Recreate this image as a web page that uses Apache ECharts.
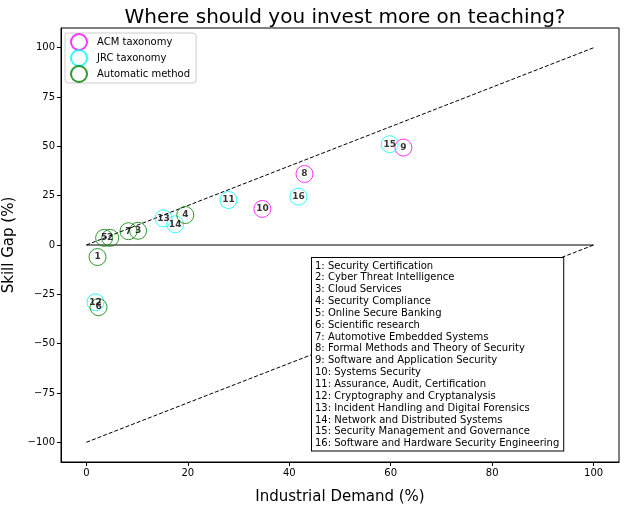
<!DOCTYPE html>
<html>
<head>
<meta charset="utf-8">
<script src="https://cdn.jsdelivr.net/npm/echarts@6/dist/echarts.min.js"></script>
<style>
  html, body { margin: 0; padding: 0; background: #fff; }
  #main { width: 625px; height: 506px; }
</style>
</head>
<body>
<div id="main"></div>
<script>
// ACM taxonomy
const acmIds = ['8', '9', '10'];
const acmX = [43, 62.5, 34.7];
const acmY = [36, 49.4, 18.3];

// JRC taxonomy
const jrcIds = ['11', '12', '13', '14', '15', '16'];
const jrcX = [28, 1.8, 15.2, 17.5, 59.8, 41.8];
const jrcY = [22.8, -29, 13.5, 10.5, 51.1, 24.5];

// Automatic method
const autoIds = ['1', '2', '3', '4', '5', '6', '7'];
const autoX = [2.2, 4.7, 10.2, 19.5, 3.5, 2.4, 8.3];
const autoY = [-6.1, 3.6, 7.2, 15.2, 3.6, -31.5, 7.0];

const topicNames = [
  'Security Certification',
  'Cyber Threat Intelligence',
  'Cloud Services',
  'Security Compliance',
  'Online Secure Banking',
  'Scientific research',
  'Automotive Embedded Systems',
  'Formal Methods and Theory of Security',
  'Software and Application Security',
  'Systems Security',
  'Assurance, Audit, Certification',
  'Cryptography and Cryptanalysis',
  'Incident Handling and Digital Forensics',
  'Network and Distributed Systems',
  'Security Management and Governance',
  'Software and Hardware Security Engineering'
];

const xTicks = [0, 20, 40, 60, 80, 100];
const yTicks = [-100, -75, -50, -25, 0, 25, 50, 75, 100];

const upperLine = [[0, 0], [100, 100]];
const lowerLine = [[0, -100], [100, 0]];
const zeroLine = [[0, 0], [100, 0]];

const font = 'DejaVu Sans';

function pts(ids, xs, ys) {
  return ids.map(function (id, i) { return [xs[i], ys[i], id]; });
}

function scatter(name, color, ids, xs, ys) {
  return {
    name: name,
    type: 'scatter',
    symbol: 'circle',
    symbolSize: 17,
    data: pts(ids, xs, ys),
    itemStyle: { color: 'rgba(255,255,255,0)', borderColor: color, borderWidth: 1 },
    label: {
      show: true,
      position: 'inside',
      formatter: function (p) { return p.value[2]; },
      color: '#000',
      fontWeight: 'bold',
      fontSize: 9,
      fontFamily: font
    },
    emphasis: { disabled: true },
    z: 5
  };
}

function refLine(data, type) {
  return {
    type: 'line',
    data: data,
    symbol: 'none',
    lineStyle: { color: '#000', width: 1, type: type },
    silent: true,
    z: 3
  };
}

function minus(v) {
  return String(v).replace('-', '\u2212');
}

const chart = echarts.init(document.getElementById('main'));

chart.setOption({
  backgroundColor: '#fff',
  animation: false,
  textStyle: { fontFamily: font },
  title: {
    text: 'Where should you invest more on teaching?',
    left: 340,
    textAlign: 'center',
    top: 3,
    textStyle: { fontSize: 20, fontWeight: 'normal', color: '#000', fontFamily: font }
  },
  grid: {
    left: 61, right: 6, top: 28, bottom: 44,
    outerBoundsMode: 'none',
    containLabel: false,
    show: true, borderColor: '#000', borderWidth: 1, backgroundColor: 'transparent'
  },
  legend: {
    left: 65, top: 33,
    orient: 'vertical',
    data: ['ACM taxonomy', 'JRC taxonomy', 'Automatic method'],
    itemWidth: 26, itemHeight: 16, itemGap: -2,
    padding: [0, 6, 0, 5],
    borderColor: '#ccc', borderWidth: 1, borderRadius: 3,
    backgroundColor: '#fff',
    textStyle: { fontSize: 10, lineHeight: 12, color: '#000', fontFamily: font },
    icon: 'circle'
  },
  xAxis: {
    type: 'value',
    min: -5, max: 105,
    name: 'Industrial Demand (%)',
    nameLocation: 'middle',
    nameGap: 28,
    nameTextStyle: { fontSize: 15, color: '#000', fontFamily: font },
    axisLine: { show: true, onZero: false, lineStyle: { color: '#000' } },
    axisLabel: {
      color: '#000', fontSize: 10, fontFamily: font, margin: 6,
      customValues: xTicks, formatter: minus
    },
    axisTick: { show: true, length: 4, lineStyle: { color: '#000' }, customValues: xTicks },
    splitLine: { show: false }
  },
  yAxis: {
    type: 'value',
    min: -110, max: 110,
    name: 'Skill Gap (%)',
    nameLocation: 'middle',
    nameGap: 40,
    nameTextStyle: { fontSize: 15, color: '#000', fontFamily: font },
    axisLine: { show: true, onZero: false, lineStyle: { color: '#000' } },
    axisLabel: {
      color: '#000', fontSize: 10, fontFamily: font, margin: 6,
      customValues: yTicks, formatter: minus
    },
    axisTick: { show: true, length: 4, lineStyle: { color: '#000' }, customValues: yTicks },
    splitLine: { show: false }
  },
  graphic: [{
    type: 'text',
    left: 311,
    top: 257,
    z: 100,
    style: {
      text: topicNames.map(function (n, i) { return (i + 1) + ': ' + n; }).join('\n'),
      font: '10px "DejaVu Sans"',
      lineHeight: 11.85,
      fill: '#000',
      backgroundColor: '#fff',
      borderColor: '#000',
      borderWidth: 1,
      padding: [2, 4, 1, 3]
    }
  }],
  series: [
    refLine(upperLine, [4, 2]),
    refLine(lowerLine, [4, 2]),
    refLine(zeroLine, 'solid'),
    scatter('ACM taxonomy', '#ff00ff', acmIds, acmX, acmY),
    scatter('JRC taxonomy', '#00ffff', jrcIds, jrcX, jrcY),
    scatter('Automatic method', '#008000', autoIds, autoX, autoY)
  ]
});
</script>
</body>
</html>
